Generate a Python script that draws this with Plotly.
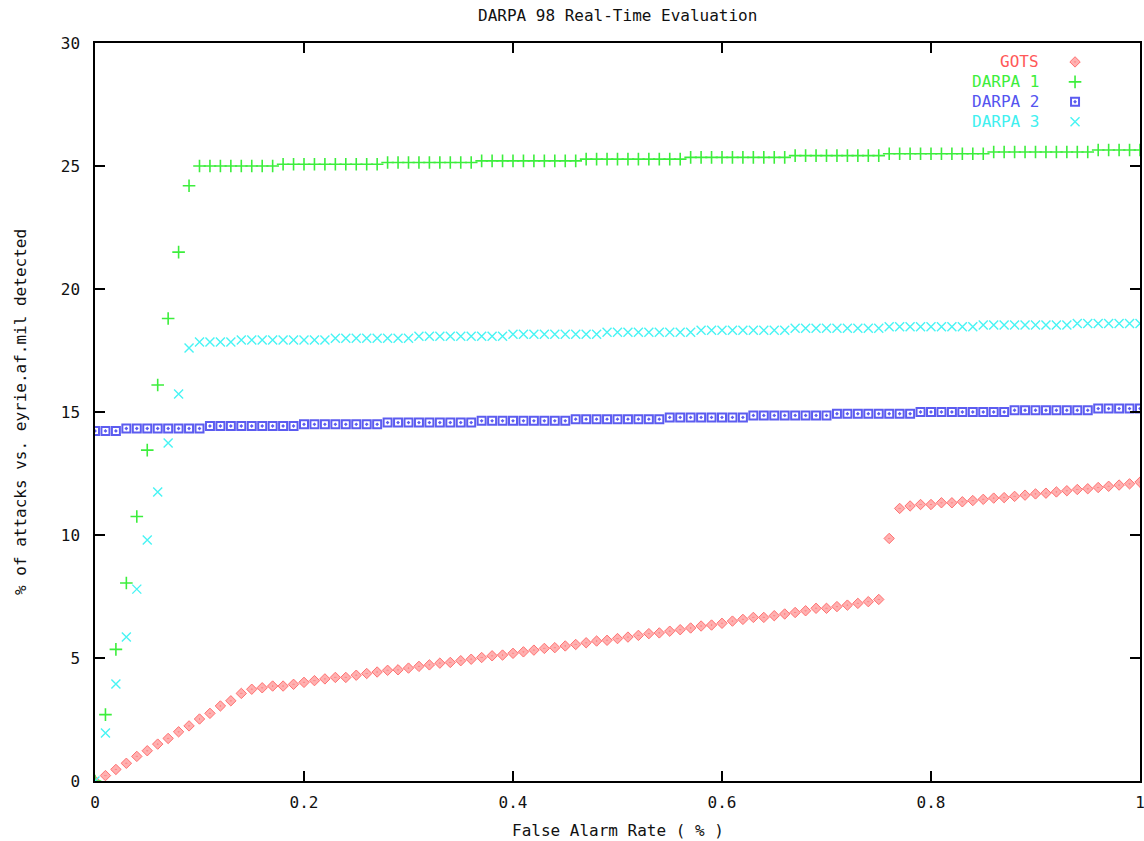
import plotly.graph_objects as go

# False alarm rate (%) sampling grid
far = [0.00, 0.01, 0.02, 0.03, 0.04, 0.05, 0.06, 0.07, 0.08, 0.09,
       0.10, 0.11, 0.12, 0.13, 0.14, 0.15, 0.16, 0.17, 0.18, 0.19,
       0.20, 0.21, 0.22, 0.23, 0.24, 0.25, 0.26, 0.27, 0.28, 0.29,
       0.30, 0.31, 0.32, 0.33, 0.34, 0.35, 0.36, 0.37, 0.38, 0.39,
       0.40, 0.41, 0.42, 0.43, 0.44, 0.45, 0.46, 0.47, 0.48, 0.49,
       0.50, 0.51, 0.52, 0.53, 0.54, 0.55, 0.56, 0.57, 0.58, 0.59,
       0.60, 0.61, 0.62, 0.63, 0.64, 0.65, 0.66, 0.67, 0.68, 0.69,
       0.70, 0.71, 0.72, 0.73, 0.74, 0.75, 0.76, 0.77, 0.78, 0.79,
       0.80, 0.81, 0.82, 0.83, 0.84, 0.85, 0.86, 0.87, 0.88, 0.89,
       0.90, 0.91, 0.92, 0.93, 0.94, 0.95, 0.96, 0.97, 0.98, 0.99,
       1.00]

gots = [0.00, 0.22, 0.47, 0.72, 1.00, 1.23, 1.50, 1.73, 2.00, 2.24,
        2.52, 2.75, 3.05, 3.26, 3.56, 3.73, 3.79, 3.86, 3.86, 3.93,
        4.01, 4.08, 4.15, 4.21, 4.21, 4.30, 4.37, 4.43, 4.50, 4.52,
        4.59, 4.66, 4.72, 4.79, 4.82, 4.89, 4.95, 5.02, 5.09, 5.12,
        5.19, 5.25, 5.32, 5.39, 5.42, 5.49, 5.55, 5.62, 5.69, 5.72,
        5.79, 5.85, 5.92, 5.99, 6.02, 6.09, 6.15, 6.22, 6.30, 6.34,
        6.41, 6.50, 6.57, 6.65, 6.65, 6.72, 6.79, 6.85, 6.92, 7.02,
        7.02, 7.09, 7.15, 7.22, 7.29, 7.38, 9.86, 11.08, 11.18, 11.24,
        11.24, 11.31, 11.31, 11.35, 11.40, 11.45, 11.50, 11.52, 11.57, 11.62,
        11.67, 11.70, 11.75, 11.80, 11.85, 11.88, 11.93, 11.98, 12.03, 12.08,
        12.15]

darpa1 = [0.00, 2.70, 5.35, 8.05, 10.75, 13.45, 16.10, 18.80, 21.50, 24.20,
          25.00, 25.00, 25.00, 25.00, 25.00, 25.00, 25.00, 25.00, 25.07, 25.07,
          25.07, 25.07, 25.07, 25.07, 25.07, 25.07, 25.07, 25.07, 25.14, 25.14,
          25.14, 25.14, 25.14, 25.14, 25.14, 25.14, 25.14, 25.21, 25.21, 25.21,
          25.21, 25.21, 25.21, 25.21, 25.21, 25.21, 25.21, 25.28, 25.28, 25.28,
          25.28, 25.28, 25.28, 25.28, 25.28, 25.28, 25.28, 25.35, 25.35, 25.35,
          25.35, 25.35, 25.35, 25.35, 25.35, 25.35, 25.35, 25.42, 25.42, 25.42,
          25.42, 25.42, 25.42, 25.42, 25.42, 25.42, 25.50, 25.50, 25.50, 25.50,
          25.50, 25.50, 25.50, 25.50, 25.50, 25.50, 25.57, 25.57, 25.57, 25.57,
          25.57, 25.57, 25.57, 25.57, 25.57, 25.57, 25.65, 25.65, 25.65, 25.65,
          25.65]

darpa2 = [14.23, 14.23, 14.23, 14.33, 14.33, 14.33, 14.33, 14.33, 14.33, 14.33,
          14.33, 14.43, 14.43, 14.43, 14.43, 14.43, 14.43, 14.43, 14.43, 14.43,
          14.50, 14.50, 14.50, 14.50, 14.50, 14.50, 14.50, 14.50, 14.57, 14.57,
          14.57, 14.57, 14.57, 14.57, 14.57, 14.57, 14.57, 14.64, 14.64, 14.64,
          14.64, 14.64, 14.64, 14.64, 14.64, 14.64, 14.71, 14.71, 14.71, 14.71,
          14.71, 14.71, 14.71, 14.71, 14.71, 14.78, 14.78, 14.78, 14.78, 14.78,
          14.78, 14.78, 14.78, 14.86, 14.86, 14.86, 14.86, 14.86, 14.86, 14.86,
          14.86, 14.93, 14.93, 14.93, 14.93, 14.93, 14.93, 14.93, 14.93, 15.00,
          15.00, 15.00, 15.00, 15.00, 15.00, 15.00, 15.00, 15.00, 15.07, 15.07,
          15.07, 15.07, 15.07, 15.07, 15.07, 15.07, 15.14, 15.14, 15.14, 15.14,
          15.14]

darpa3 = [0.00, 1.95, 3.94, 5.85, 7.80, 9.80, 11.75, 13.74, 15.73, 17.60,
          17.85, 17.85, 17.85, 17.85, 17.93, 17.93, 17.93, 17.93, 17.93, 17.93,
          17.93, 17.93, 17.93, 18.00, 18.00, 18.00, 18.00, 18.00, 18.00, 18.00,
          18.00, 18.08, 18.08, 18.08, 18.08, 18.08, 18.08, 18.08, 18.08, 18.08,
          18.16, 18.16, 18.16, 18.16, 18.16, 18.16, 18.16, 18.16, 18.16, 18.24,
          18.24, 18.24, 18.24, 18.24, 18.24, 18.24, 18.24, 18.24, 18.32, 18.32,
          18.32, 18.32, 18.32, 18.32, 18.32, 18.32, 18.32, 18.40, 18.40, 18.40,
          18.40, 18.40, 18.40, 18.40, 18.40, 18.40, 18.47, 18.47, 18.47, 18.47,
          18.47, 18.47, 18.47, 18.47, 18.47, 18.54, 18.54, 18.54, 18.54, 18.54,
          18.54, 18.54, 18.54, 18.54, 18.60, 18.60, 18.60, 18.60, 18.60, 18.60,
          18.60]

series_names = ["GOTS", "DARPA 1", "DARPA 2", "DARPA 3"]
x_ticks = [0, 0.2, 0.4, 0.6, 0.8, 1]
x_tick_labels = ["0", "0.2", "0.4", "0.6", "0.8", "1"]
y_ticks = [0, 5, 10, 15, 20, 25, 30]

FONT = "DejaVu Sans Mono"
TXT = "#111111"
styles = [
    dict(symbol="diamond-dot", size=8, color="#ffb0b0", line=dict(color="#ff7070", width=1)),
    dict(symbol="cross-thin-open", size=9, color="#3cee3c", line=dict(color="#3cee3c", width=1.6)),
    dict(symbol="square-open-dot", size=8, color="#5c5cf0", line=dict(color="#5c5cf0", width=2)),
    dict(symbol="x-thin-open", size=9, color="#48f4f4", line=dict(color="#48f4f4", width=1.4)),
]
text_colors = ["#ff5858", "#3cee3c", "#5454f0", "#40f0f0"]

fig = go.Figure()
for ys, st in zip([gots, darpa1, darpa2, darpa3], styles):
    fig.add_trace(go.Scatter(x=far, y=ys, mode="markers", marker=st,
                             name=" ", showlegend=True))

# Legend labels (gnuplot style: right-aligned text left of the symbol)
label_y = [0.9743, 0.9485, 0.9214, 0.8943]
for name, col, yy in zip(series_names, text_colors, label_y):
    fig.add_annotation(text=name, xref="paper", yref="paper", x=0.905, y=yy,
                       xanchor="right", yanchor="middle", showarrow=False,
                       font=dict(family=FONT, size=16, color=col))

# Title and axis titles
fig.add_annotation(text="DARPA 98 Real-Time Evaluation", xref="paper", yref="paper",
                   x=0.5, y=1, yshift=28, xanchor="center", yanchor="middle",
                   showarrow=False, font=dict(family=FONT, size=16, color=TXT))
fig.add_annotation(text="False Alarm Rate ( % )", xref="paper", yref="paper",
                   x=0.5, y=0, yshift=-49, xanchor="center", yanchor="middle",
                   showarrow=False, font=dict(family=FONT, size=16, color=TXT))
fig.add_annotation(text="% of attacks vs. eyrie.af.mil detected", xref="paper", yref="paper",
                   x=0, y=0.5, xshift=-75, xanchor="center", yanchor="middle",
                   textangle=-90, showarrow=False,
                   font=dict(family=FONT, size=16, color=TXT))

axis_common = dict(showline=True, linecolor="black", linewidth=1.5, mirror="ticks",
                   ticks="inside", ticklen=10, tickwidth=1.5, tickcolor="black",
                   showgrid=False, zeroline=False, automargin=False,
                   ticklabeloverflow="allow",
                   tickfont=dict(family=FONT, size=16, color=TXT))

fig.update_layout(
    width=1144, height=841,
    paper_bgcolor="white", plot_bgcolor="white",
    margin=dict(l=95, r=4, t=43, b=60),
    xaxis=dict(range=[0, 1], tickvals=x_ticks, ticktext=x_tick_labels,
               ticklabelstandoff=6, **axis_common),
    yaxis=dict(range=[0, 30], tickvals=y_ticks, ticklabelstandoff=10,
               **axis_common),
    legend=dict(x=0.9187, y=0.9946, xanchor="left", yanchor="top",
                bgcolor="rgba(0,0,0,0)", borderwidth=0,
                font=dict(family=FONT, size=13), itemwidth=30),
    showlegend=True,
)

# Remove the browser's default page margin so the figure sits at the window origin
fig.write_html("out.html", config={"displayModeBar": False},
               post_script="document.body.style.margin='0';")
